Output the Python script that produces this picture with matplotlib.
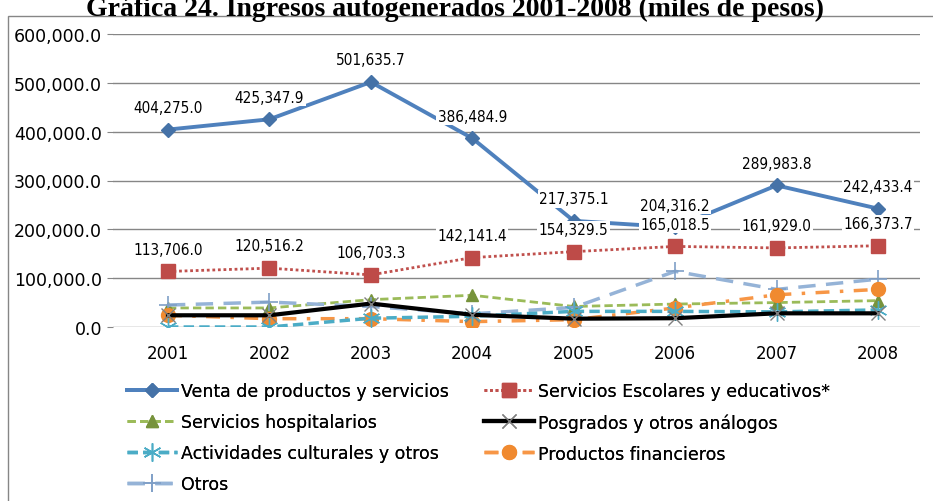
#!/usr/bin/env python3

import matplotlib
matplotlib.use("Agg")
import matplotlib.pyplot as plt
from matplotlib.patches import Rectangle

years = ["2001", "2002", "2003", "2004", "2005", "2006", "2007", "2008"]

venta = [404275.0, 425347.9, 501635.7, 386484.9, 217375.1, 204316.2, 289983.8, 242433.4]
escolares = [113706.0, 120516.2, 106703.3, 142141.4, 154329.5, 165018.5, 161929.0, 166373.7]
hospitalarios = [39000, 39000, 56000, 65000, 42000, 47000, 50000, 54000]
posgrados = [24000, 24000, 48000, 25000, 17000, 18000, 28000, 28000]
culturales = [0, 0, 18000, 22000, 32000, 32000, 31000, 35000]
financieros = [24000, 17000, 17000, 11000, 15000, 39000, 66000, 77000]
otros = [45000, 51000, 42000, 27000, 40000, 114000, 77000, 98000]

W, H = 933, 502


def fx(px):
    return px / W


def fy(py):
    return 1 - py / H


def main():
    plt.rcParams["font.family"] = ["DejaVu Sans"]
    fig = plt.figure(figsize=(W / 100, H / 100), dpi=100)
    ax = fig.add_axes([fx(113), fy(328), fx(920) - fx(113), fy(35) - fy(328)])

    x = list(range(len(years)))

    l_hosp, = ax.plot(x, hospitalarios, color="#9BBB59", lw=2, ls=(0, (3, 1.5)),
                      marker="^", ms=9, mfc="#77933C", mec="#77933C",
                      label="Servicios hospitalarios")
    l_otros, = ax.plot(x, otros, color="#95B3D7", lw=2.5, ls=(0, (5, 3)),
                       marker="+", ms=13, mew=1.2, mec="#7F9FC7",
                       label="Otros")
    l_fin, = ax.plot(x, financieros, color="#F79646", lw=2.5, ls=(0, (4, 3, 1, 3)),
                     marker="o", ms=10, mfc="#F08A30", mec="#F08A30",
                     label="Productos financieros")
    l_cult, = ax.plot(x, culturales, color="#4BACC6", lw=2.5, ls=(0, (3, 1.5)),
                      marker=(6, 2, 0), ms=13, mew=1, mec="#4BACC6",
                      label="Actividades culturales y otros")
    l_pos, = ax.plot(x, posgrados, color="black", lw=3,
                     marker="x", ms=10, mew=1, mec="#7F7F7F",
                     label="Posgrados y otros análogos")
    l_esc, = ax.plot(x, escolares, color="#C0504D", lw=2, ls=(0, (1, 1)),
                     marker="s", ms=10, mfc="#BE4B48", mec="#BE4B48",
                     label="Servicios Escolares y educativos*")
    l_venta, = ax.plot(x, venta, color="#4F81BD", lw=2.8,
                       marker="D", ms=7, mfc="#4572A7", mec="#4572A7",
                       label="Venta de productos y servicios")

    for series in (venta, escolares):
        for xi, v in zip(x, series):
            ax.annotate("{:,.1f}".format(v), (xi, v), xytext=(0, 16),
                        textcoords="offset points", ha="center", va="center",
                        fontsize=11, fontstretch="condensed",
                        family=["DejaVu Sans"],
                        bbox=dict(fc="white", ec="none", pad=1.0), zorder=5)

    ax.set_xlim(-0.542, 7.414)
    ax.set_ylim(0, 600000)
    ax.set_yticks(range(0, 600001, 100000))
    ax.set_yticklabels(["{:,.1f}".format(v) for v in range(0, 600001, 100000)])
    ax.set_xticks(x)
    ax.set_xticklabels(years)
    ax.tick_params(axis="x", labelsize=12, length=0, pad=12)
    ax.tick_params(axis="y", labelsize=12.5, length=4, color="#868686",
                   direction="out", pad=4)
    ax.grid(True, axis="y", color="#868686", lw=1)
    ax.set_axisbelow(True)
    for s in ax.spines.values():
        s.set_visible(False)

    col1 = [l_venta, l_hosp, l_cult, l_otros]
    col2 = [l_esc, l_pos, l_fin]
    for handles, left in ((col1, 127), (col2, 484)):
        leg = fig.legend(handles, [h.get_label() for h in handles],
                         loc="upper left", bbox_to_anchor=(fx(left), fy(383)),
                         borderpad=0, borderaxespad=0, frameon=False,
                         fontsize=12.5, handlelength=2.9, handletextpad=0.2,
                         labelspacing=0.75)
        fig.add_artist(leg)

    fig.patches.append(Rectangle((fx(8), fy(520)), fx(960) - fx(8),
                                 fy(17) - fy(520), transform=fig.transFigure,
                                 fill=False, ec="#868686", lw=1))

    fig.text(fx(455), fy(16),
             "Gráfica 24. Ingresos autogenerados 2001-2008 (miles de pesos)",
             ha="center", va="baseline", fontsize=20, fontweight="bold",
             family=["Liberation Serif", "DejaVu Serif"])

    fig.savefig("out.png", dpi=100)


if __name__ == "__main__":
    main()
